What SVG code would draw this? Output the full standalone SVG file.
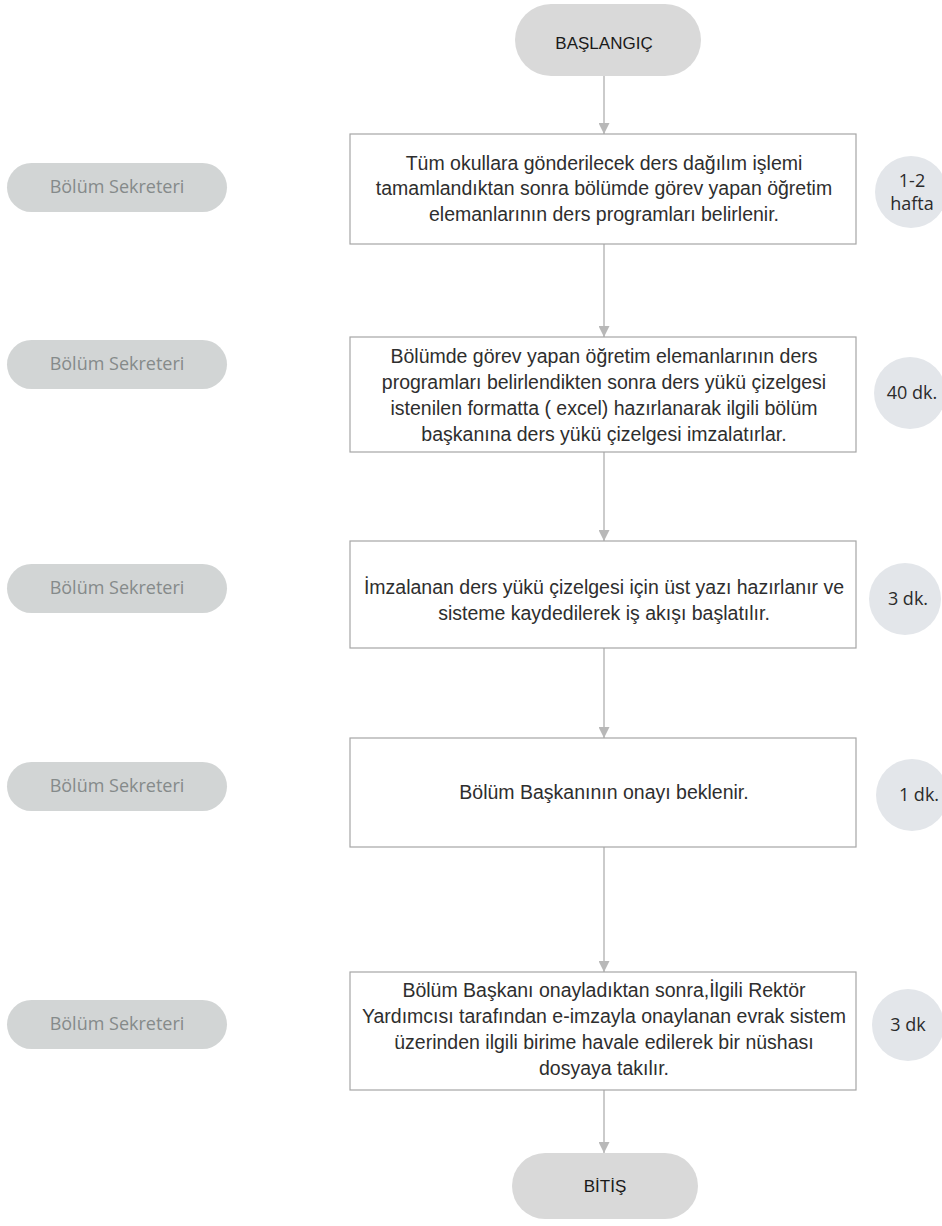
<svg xmlns="http://www.w3.org/2000/svg" width="942" height="1226" viewBox="0 0 942 1226">
<style>
.bg{fill:#ffffff}
.term{fill:#d9d9d9}
.termt{font-family:"Liberation Sans",Arial,sans-serif;font-size:17px;fill:#1a1a1a;text-anchor:middle}
.box{fill:#ffffff;stroke:#a6a6a6;stroke-width:1.2}
.bt{font-family:"Liberation Sans",Arial,sans-serif;font-size:19.5px;fill:#2e2e2e;text-anchor:middle}
.role{fill:#d2d5d5}
.rt{font-family:"Open Sans","Liberation Sans",sans-serif;font-size:18px;fill:#858a8a;text-anchor:middle}
.dur{fill:#e3e6ea}
.dt{font-family:"Open Sans","Liberation Sans",sans-serif;font-size:18px;fill:#2b2b2b;text-anchor:middle}
.conn{stroke:#a8a8a8;stroke-width:1.2;fill:none;marker-end:url(#arr)}
</style>
<defs>
<marker id="arr" viewBox="0 0 10 10" refX="10" refY="5" markerWidth="11" markerHeight="11" markerUnits="userSpaceOnUse" orient="auto">
<path d="M0,0 L10,5 L0,10 z" fill="#b8b8b8"/>
</marker>
</defs>
<rect class="bg" x="0" y="0" width="942" height="1226"/>

<g id="connectors">
<line class="conn" x1="604" y1="76" x2="604" y2="134"/>
<line class="conn" x1="604" y1="244" x2="604" y2="337"/>
<line class="conn" x1="604" y1="452" x2="604" y2="541"/>
<line class="conn" x1="604" y1="648" x2="604" y2="738"/>
<line class="conn" x1="604" y1="847" x2="604" y2="972"/>
<line class="conn" x1="604" y1="1090" x2="604" y2="1153"/>
</g>

<g id="start">
<rect class="term" x="515" y="4" width="186" height="72" rx="36"/>
<text class="termt" x="604" y="49">BAŞLANGIÇ</text>
</g>

<g id="step1">
<rect class="box" x="350" y="134" width="506" height="110"/>
<text class="bt" x="604" y="170">Tüm okullara gönderilecek ders dağılım işlemi</text>
<text class="bt" x="604" y="195">tamamlandıktan sonra bölümde görev yapan öğretim</text>
<text class="bt" x="604" y="221">elemanlarının ders programları belirlenir.</text>
</g>

<g id="step2">
<rect class="box" x="350" y="337" width="506" height="115"/>
<text class="bt" x="604" y="363">Bölümde görev yapan öğretim elemanlarının ders</text>
<text class="bt" x="604" y="389">programları belirlendikten sonra ders yükü çizelgesi</text>
<text class="bt" x="604" y="415">istenilen formatta ( excel) hazırlanarak ilgili bölüm</text>
<text class="bt" x="604" y="441">başkanına ders yükü çizelgesi imzalatırlar.</text>
</g>

<g id="step3">
<rect class="box" x="350" y="541" width="506" height="107"/>
<text class="bt" x="604" y="594">İmzalanan ders yükü çizelgesi için üst yazı hazırlanır ve</text>
<text class="bt" x="604" y="620">sisteme kaydedilerek iş akışı başlatılır.</text>
</g>

<g id="step4">
<rect class="box" x="350" y="738" width="506" height="109"/>
<text class="bt" x="604" y="799">Bölüm Başkanının onayı beklenir.</text>
</g>

<g id="step5">
<rect class="box" x="350" y="972" width="506" height="118"/>
<text class="bt" x="604" y="997">Bölüm Başkanı onayladıktan sonra,İlgili Rektör</text>
<text class="bt" x="604" y="1023">Yardımcısı tarafından e-imzayla onaylanan evrak sistem</text>
<text class="bt" x="604" y="1049">üzerinden ilgili birime havale edilerek bir nüshası</text>
<text class="bt" x="604" y="1075">dosyaya takılır.</text>
</g>

<g id="end">
<rect class="term" x="512" y="1153" width="186" height="66" rx="33"/>
<text class="termt" x="605" y="1192">BİTİŞ</text>
</g>

<g id="role1"><rect class="role" x="7" y="163" width="220" height="49" rx="24.5"/><text class="rt" x="117" y="193">Bölüm Sekreteri</text></g>
<g id="role2"><rect class="role" x="7" y="340" width="220" height="49" rx="24.5"/><text class="rt" x="117" y="370">Bölüm Sekreteri</text></g>
<g id="role3"><rect class="role" x="7" y="564" width="220" height="49" rx="24.5"/><text class="rt" x="117" y="594">Bölüm Sekreteri</text></g>
<g id="role4"><rect class="role" x="7" y="762" width="220" height="49" rx="24.5"/><text class="rt" x="117" y="792">Bölüm Sekreteri</text></g>
<g id="role5"><rect class="role" x="7" y="1000" width="220" height="49" rx="24.5"/><text class="rt" x="117" y="1030">Bölüm Sekreteri</text></g>

<g id="dur1"><circle class="dur" cx="911" cy="192" r="36"/><text class="dt" x="912" y="187">1-2</text><text class="dt" x="912" y="210">hafta</text></g>
<g id="dur2"><circle class="dur" cx="910" cy="393" r="36"/><text class="dt" x="912" y="399">40 dk.</text></g>
<g id="dur3"><circle class="dur" cx="905" cy="599" r="36"/><text class="dt" x="908" y="605">3 dk.</text></g>
<g id="dur4"><circle class="dur" cx="912" cy="795" r="36"/><text class="dt" x="919" y="801">1 dk.</text></g>
<g id="dur5"><circle class="dur" cx="908" cy="1025" r="36"/><text class="dt" x="908" y="1031">3 dk</text></g>
</svg>
